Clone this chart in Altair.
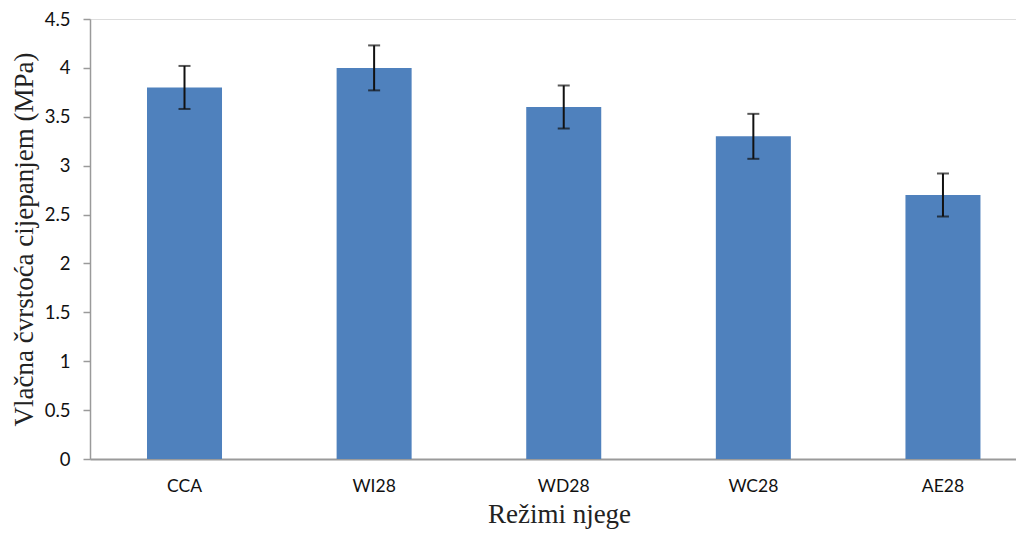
import altair as alt
import pandas as pd

categories = ["CCA", "WI28", "WD28", "WC28", "AE28"]
values = [3.8, 4.0, 3.6, 3.3, 2.7]
errors = [0.22, 0.23, 0.22, 0.23, 0.22]
y_ticks = [0, 0.5, 1, 1.5, 2, 2.5, 3, 3.5, 4, 4.5]

df = pd.DataFrame({
    "cat": categories,
    "val": values,
    "lo": [v - e for v, e in zip(values, errors)],
    "hi": [v + e for v, e in zip(values, errors)],
})

xscale = alt.Scale(domain=categories, paddingInner=0.6044, paddingOuter=0.244, align=0.616)
yscale = alt.Scale(domain=[0, 4.5], nice=False)

xaxis = alt.Axis(
    title="Režimi njege", labelAngle=0, ticks=False, domainColor="#9a9a9a", domainWidth=2,
    labelFont="Lato", labelFontSize=17.5, labelColor="#111111", labelPadding=18,
    titleFont="Liberation Serif", titleFontSize=27, titleFontWeight="normal", titleColor="#222222",
    titlePadding=7, titleX=469, titleAnchor="middle",
)
yaxis = alt.Axis(
    title="Vlačna čvrstoća cijepanjem (MPa)", values=y_ticks, format="~g", grid=False,
    domainColor="#9a9a9a", domainWidth=1.5, tickColor="#9a9a9a", tickSize=7, tickWidth=1.5,
    labelFont="Lato", labelFontSize=18.5, labelColor="#111111", labelPadding=13,
    titleFont="Liberation Serif", titleFontSize=27, titleFontWeight="normal", titleColor="#222222",
    titlePadding=6,
)

base = alt.Chart(df)

bars = base.mark_bar(color="#4F81BD").encode(
    x=alt.X("cat:N", scale=xscale, axis=xaxis, sort=categories),
    y=alt.Y("val:Q", scale=yscale, axis=yaxis),
)

rules = base.mark_rule(color="#111111", strokeWidth=2).encode(
    x=alt.X("cat:N", scale=xscale, sort=categories),
    y=alt.Y("lo:Q", scale=yscale),
    y2="hi:Q",
)

caps_hi = base.mark_tick(color="#111111", thickness=2, size=12).encode(
    x=alt.X("cat:N", scale=xscale, sort=categories),
    y=alt.Y("hi:Q", scale=yscale),
)
caps_lo = base.mark_tick(color="#111111", thickness=2, size=12).encode(
    x=alt.X("cat:N", scale=xscale, sort=categories),
    y=alt.Y("lo:Q", scale=yscale),
)

chart = alt.layer(bars, rules, caps_hi, caps_lo).properties(
    width=926, height=440,
    autosize=alt.AutoSizeParams(type="none"),
    padding={"left": 82, "top": 11, "right": 0, "bottom": 75},
).configure_view(stroke=None).configure(background="white")

chart.save("out.html", embed_options={"renderer": "svg", "actions": False})
